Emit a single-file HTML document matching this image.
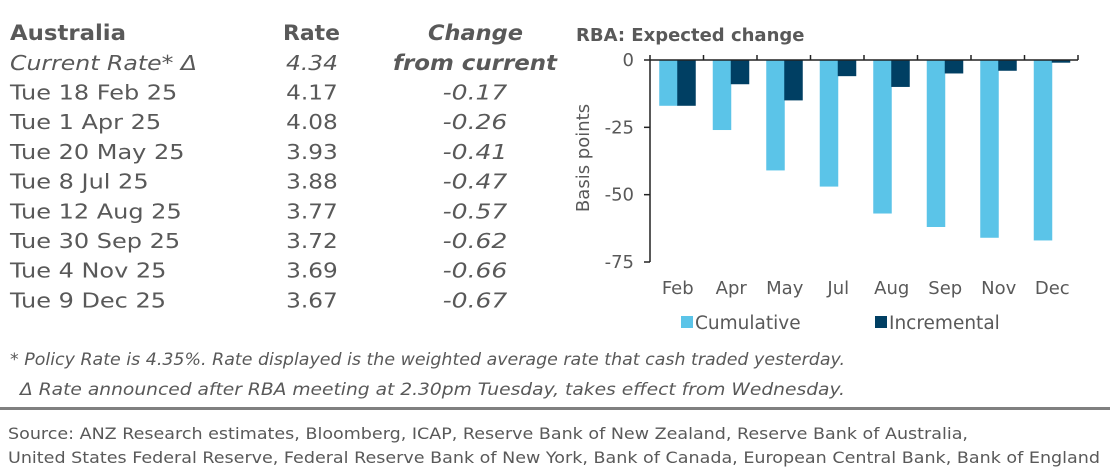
<!DOCTYPE html>
<html><head><meta charset="utf-8"><style>
body{margin:0;background:#fff;}
svg{display:block;font-family:"DejaVu Sans","Liberation Sans",sans-serif;}
</style></head><body>
<svg id="root" width="1110" height="468" viewBox="0 0 1110 468">
<g id="table" fill="#595959" font-size="20.5">
  <text x="10" y="40" font-weight="bold" font-size="21" textLength="116" lengthAdjust="spacingAndGlyphs">Australia</text>
  <text x="283" y="40" font-weight="bold" font-size="21" textLength="57" lengthAdjust="spacingAndGlyphs">Rate</text>
  <text x="428" y="40" font-weight="bold" font-style="italic" font-size="21" textLength="95" lengthAdjust="spacingAndGlyphs">Change</text>
  <text x="10" y="70" font-style="italic" textLength="187" lengthAdjust="spacingAndGlyphs">Current Rate* Δ</text>
  <text x="286" y="70" font-style="italic" textLength="52" lengthAdjust="spacingAndGlyphs">4.34</text>
  <text x="393" y="70" font-weight="bold" font-style="italic" font-size="21" textLength="164" lengthAdjust="spacingAndGlyphs">from current</text>
</g>
<g id="chart"></g>
<g fill="#595959" font-size="17" font-style="italic">
  <text x="10" y="365" textLength="835" lengthAdjust="spacingAndGlyphs">* Policy Rate is 4.35%.  Rate displayed is the weighted average rate that cash traded yesterday.</text>
  <text x="20" y="395" textLength="825" lengthAdjust="spacingAndGlyphs">Δ Rate announced after RBA meeting at 2.30pm Tuesday, takes effect from Wednesday.</text>
</g>
<rect x="0" y="407" width="1110" height="3" fill="#808080"/>
<g fill="#595959" font-size="16">
  <text x="8" y="439" textLength="960" lengthAdjust="spacingAndGlyphs">Source: ANZ Research estimates, Bloomberg, ICAP, Reserve Bank of New Zealand, Reserve Bank of Australia,</text>
  <text x="8" y="463" textLength="1092" lengthAdjust="spacingAndGlyphs">United States Federal Reserve, Federal Reserve Bank of New York, Bank of Canada, European Central Bank, Bank of England</text>
</g>
</svg>
<script>
const meetings = ["Tue 18 Feb 25","Tue 1 Apr 25","Tue 20 May 25","Tue 8 Jul 25","Tue 12 Aug 25","Tue 30 Sep 25","Tue 4 Nov 25","Tue 9 Dec 25"];
const rates = ["4.17","4.08","3.93","3.88","3.77","3.72","3.69","3.67"];
const changes = ["-0.17","-0.26","-0.41","-0.47","-0.57","-0.62","-0.66","-0.67"];
const categories = ["Feb","Apr","May","Jul","Aug","Sep","Nov","Dec"];
const cumulative = [-17,-26,-41,-47,-57,-62,-66,-67];
const incremental = [-17,-9,-15,-6,-10,-5,-4,-1];
const yTicks = [0,-25,-50,-75];

const NS="http://www.w3.org/2000/svg";
function mk(tag,attrs,parent,txt){const e=document.createElementNS(NS,tag);for(const k in attrs)e.setAttribute(k,attrs[k]);if(txt!==undefined)e.textContent=txt;parent.appendChild(e);return e;}
function stretch(t,f){const w=t.getComputedTextLength();t.setAttribute('textLength',(w*f).toFixed(1));t.setAttribute('lengthAdjust','spacingAndGlyphs');}

const table=document.getElementById('table');
meetings.forEach((m,i)=>{
  const y=99.5+i*29.7;
  let t=mk('text',{x:10,y:y},table,m);
  
  
  stretch(t,1.17);
  t=mk('text',{x:312,y:y,'text-anchor':'middle'},table,rates[i]);
  
  
  stretch(t,1.13);
  t=mk('text',{x:475,y:y,'text-anchor':'middle','font-style':'italic'},table,changes[i]);
  
  
  stretch(t,1.22);
});

const chart=document.getElementById('chart');
const x0=650,x1=1078,y0=60,yScale=202/75;
const yPos=v=>y0-v*yScale;
const bw=(x1-x0)/categories.length;
let t=mk('text',{x:576,y:41,'font-size':18,'font-weight':'bold',fill:'#595959'},chart,'RBA: Expected change');


t=mk('text',{x:0,y:0,'font-size':18,fill:'#595959','text-anchor':'middle',transform:'translate(589,158) rotate(-90)'},chart,'Basis points');


yTicks.forEach(v=>{
  const tt=mk('text',{x:634,y:yPos(v)+6,'font-size':18,fill:'#595959','text-anchor':'end'},chart,v);
  
  
  const tk=mk('line',{x1:x0-6,x2:x0,y1:yPos(v),y2:yPos(v),stroke:'#222','stroke-width':1.5},chart);
  
  
});
categories.forEach((c,i)=>{
  const cx=x0+bw*i+bw/2;
  let r=mk('rect',{x:cx-17.5,y:yPos(0),width:18.5,height:yPos(cumulative[i])-yPos(0),fill:'#5bc4e8'},chart);
  
  
  r=mk('rect',{x:cx+0.5,y:yPos(0),width:18.5,height:yPos(incremental[i])-yPos(0),fill:'#003f63'},chart);
  
  
  const l=mk('text',{x:cx+1,y:294,'font-size':18,fill:'#595959','text-anchor':'middle'},chart,c);
  
  
});
for(let i=0;i<=categories.length;i++){
  const tk=mk('line',{x1:x0+bw*i,x2:x0+bw*i,y1:y0-5,y2:y0,stroke:'#222','stroke-width':1.5},chart);
  
  
}
let ax=mk('line',{x1:x0,x2:x1,y1:y0,y2:y0,stroke:'#222','stroke-width':1.5},chart);


ax=mk('line',{x1:x0,x2:x0,y1:y0,y2:yPos(-75),stroke:'#222','stroke-width':1.5},chart);


const lg=[["Cumulative","#5bc4e8",681],["Incremental","#003f63",875]];
lg.forEach(([n,c,x])=>{
  const g=mk('g',{},chart);
  
  
  mk('rect',{x:x,y:316,width:12,height:12,fill:c},g);
  mk('text',{x:x+14,y:329,'font-size':18.5,fill:'#595959'},g,n);
});
</script>
</body></html>
